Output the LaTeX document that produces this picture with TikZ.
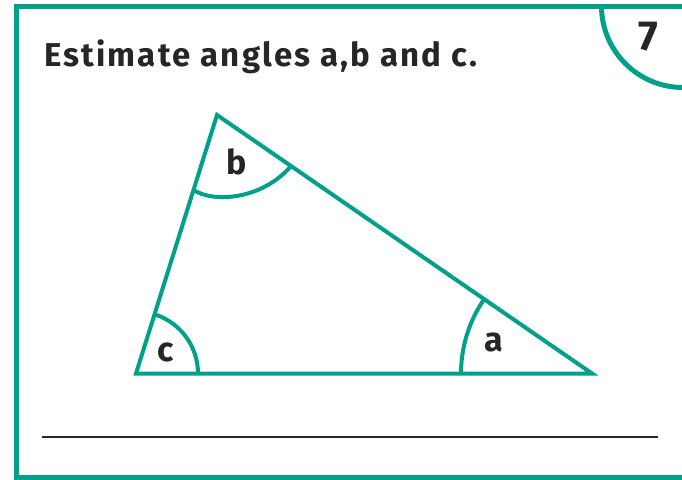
\documentclass[tikz,border=0pt]{standalone}
\usepackage{fontspec}
\setmainfont{Fira Sans}
\newfontfamily\titlefont[LetterSpace=6.5]{Fira Sans}
\usetikzlibrary{angles}
\definecolor{tealc}{HTML}{00A08A}
\definecolor{inkc}{HTML}{262626}
\begin{document}
\begin{tikzpicture}[x=1pt,y=-1pt,
  edge/.style={draw=tealc,line width=4pt,line join=miter},
  anglearc/.style={draw=tealc,line width=4pt},
  lbl/.style={text=inkc,font=\fontsize{34}{34}\selectfont\bfseries,inner sep=0pt}]
\useasboundingbox (0,0) rectangle (682,479);
% frame
\draw[tealc,line width=5pt] (16.5,6) rectangle (684,477.5);
\draw[tealc,line width=5pt] (601.5,6) arc[start angle=180,end angle=90,radius=81.5];
\node[text=inkc,font=\fontsize{42}{42}\selectfont\bfseries,inner sep=0pt] (num) at (648,37) {7};
% title
\node[anchor=base west,text=inkc,font=\titlefont\fontsize{33}{33}\selectfont\bfseries,inner sep=0pt] (title) at (44,66) {Estimate angles a,b and c.};
% triangle
\coordinate (C) at (136,373.5);
\coordinate (B) at (217,115);
\coordinate (A) at (592,373.5);
\draw[edge] (C) -- (B) -- (A) -- cycle;
\pic[anglearc,angle radius=62] {angle=A--C--B};
\pic[anglearc,angle radius=131] {angle=B--A--C};
\coordinate (b1) at (193.5,190);
\coordinate (b2) at (291,166);
\draw[anglearc] (b1) .. controls (213,203) and (262,200) .. (b2);
\node[lbl] (la) at (494,342) {a};
\node[lbl] (lb) at (236.5,162) {b};
\node[lbl] (lc) at (165.5,352) {c};
% answer line
\coordinate (l1) at (42,437);
\coordinate (l2) at (658,437);
\draw[inkc,line width=1.6pt] (l1) -- (l2);
\end{tikzpicture}
\end{document}
